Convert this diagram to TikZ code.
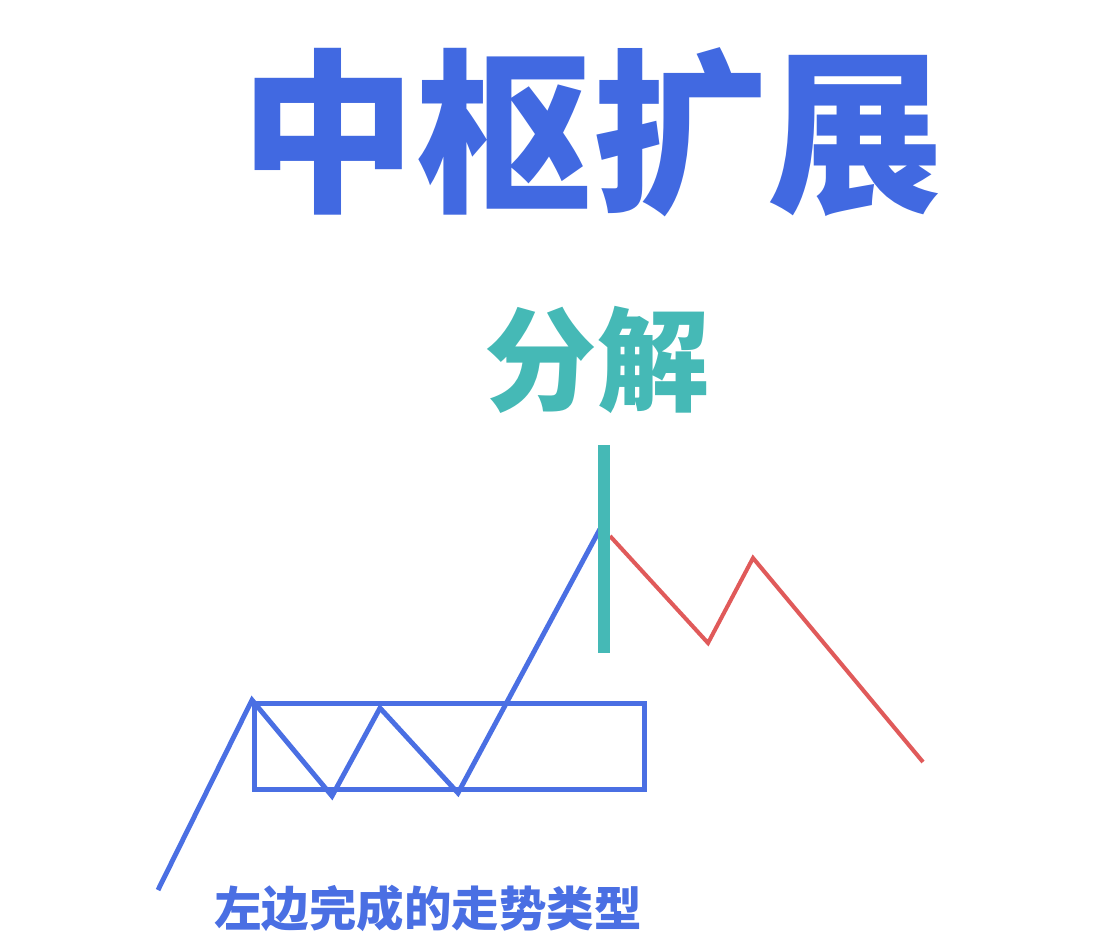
\documentclass[tikz,border=0pt]{standalone}
\usepackage{fontspec}
\newfontfamily\cjkheavy{Noto Sans CJK SC}[UprightFont=* Black]
\usepackage{xcolor}
\usetikzlibrary{positioning}
\definecolor{titleblue}{HTML}{4169E1}
\definecolor{trendblue}{HTML}{4A6FE3}
\definecolor{splitteal}{HTML}{45B9B6}
\definecolor{downred}{HTML}{E05A5A}
\tikzset{
  title/.style={font=\cjkheavy\fontsize{100}{100}\selectfont, text=titleblue, inner sep=0pt},
  subtitle/.style={font=\cjkheavy\fontsize{64}{64}\selectfont, text=splitteal, inner sep=0pt},
  caption/.style={font=\cjkheavy\fontsize{27}{27}\selectfont, text=trendblue, inner sep=0pt},
  trend/.style={draw=trendblue, line width=2.8pt, line join=miter},
  zone/.style={draw=trendblue, line width=2.8pt},
  split/.style={draw=splitteal, line width=6.8pt},
  fall/.style={draw=downred, line width=2.3pt, line join=miter},
}

\begin{document}
\begin{tikzpicture}[x=0.02cm, y=-0.02cm]
  \useasboundingbox (0,0) rectangle (1114,937);
  % headings
  \node[title] (head) at (592,132) {中枢扩展};
  \node[subtitle] (cut) at (597,360) {分解};
  \node[caption] (note) at (428,908) {左边完成的走势类型};
  % points of the left trend
  \coordinate (p0) at (158,890);
  \coordinate (p1) at (252,700);
  \coordinate (p2) at (332,796);
  \coordinate (p3) at (380,708);
  \coordinate (p4) at (458,793);
  \coordinate (top) at (600,529);
  % points of the right part
  \coordinate (q0) at (610,536);
  \coordinate (q1) at (708,643);
  \coordinate (q2) at (753,558);
  \coordinate (q3) at (923,762);
  % split mark
  \coordinate (cuttop) at (604,445);
  \coordinate (cutbot) at (604,653);
  % pivot box
  \node[zone, minimum width=390*0.02cm, minimum height=86*0.02cm, anchor=north west] (pivot) at (252,701) {};
  % lines
  \draw[trend] (p0) -- (p1) -- (p2) -- (p3) -- (p4) -- (top);
  \draw[fall] (q0) -- (q1) -- (q2) -- (q3);
  \draw[split] (cuttop) -- (cutbot);
\end{tikzpicture}
\end{document}
